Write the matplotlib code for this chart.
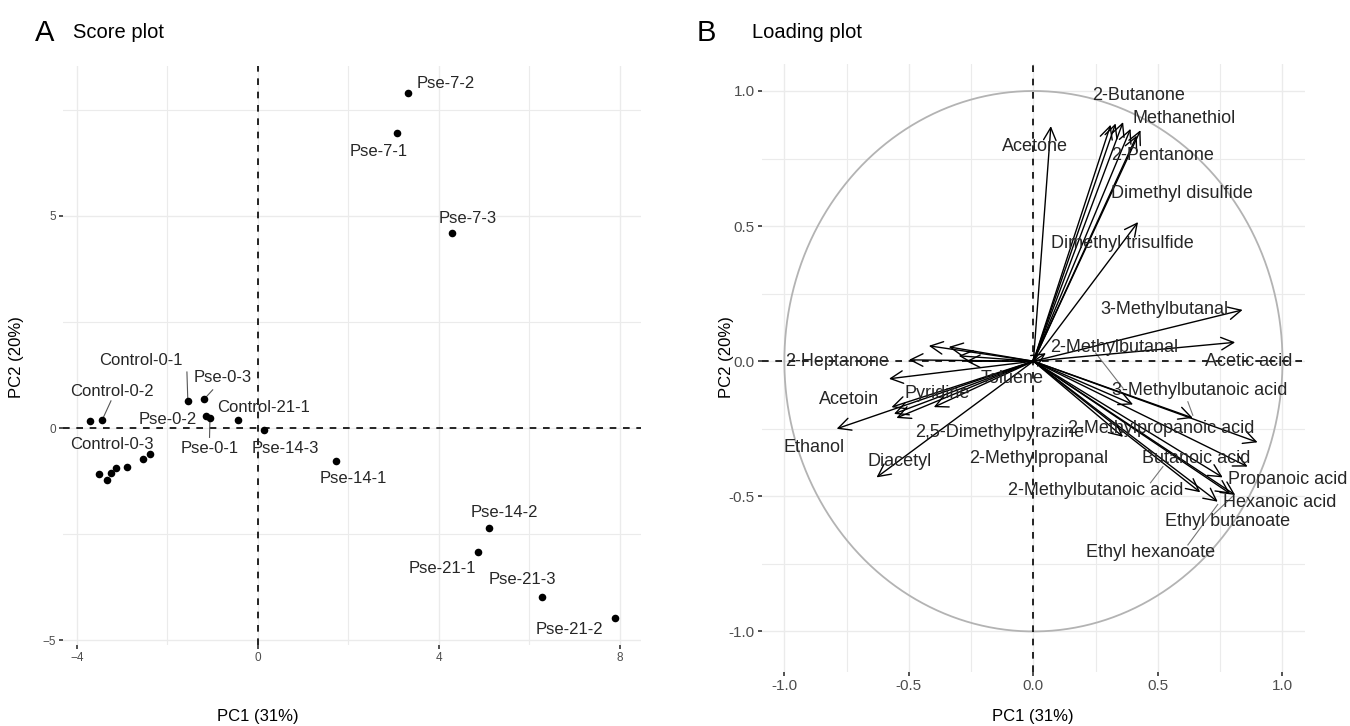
import matplotlib
matplotlib.use("Agg")
import matplotlib.pyplot as plt
import numpy as np
from matplotlib.patches import FancyArrowPatch

plt.rcParams['font.family'] = ['Liberation Sans', 'DejaVu Sans']

# ---------------- data: score plot ----------------
score_names = ["Pse-7-2", "Pse-7-1", "Pse-7-3", "Control-0-1", "Pse-0-3", "Pse-0-2", "Pse-0-1",
               "Control-21-1", "Pse-14-3", "Control-0-2", "", "Control-0-3", "", "", "", "", "", "",
               "Pse-14-1", "Pse-14-2", "Pse-21-1", "Pse-21-3", "Pse-21-2"]
score_pc1 = [3.32, 3.08, 4.29, -1.55, -1.19, -1.14, -1.06,
             -0.43, 0.14, -3.44, -3.72, -2.39, -2.54, -2.89, -3.13, -3.24, -3.33, -3.51,
             1.73, 5.11, 4.86, 6.28, 7.90]
score_pc2 = [7.90, 6.96, 4.59, 0.64, 0.68, 0.28, 0.24,
             0.19, -0.05, 0.20, 0.16, -0.61, -0.73, -0.91, -0.93, -1.05, -1.22, -1.08,
             -0.78, -2.36, -2.92, -3.98, -4.48]

# ---------------- data: loading plot ----------------
load_names = ["Acetone", "2-Butanone", "Methanethiol", "2-Pentanone", "Dimethyl disulfide", "", "",
              "Dimethyl trisulfide", "3-Methylbutanal", "Acetic acid", "2-Methylbutanal",
              "3-Methylbutanoic acid", "2-Methylpropanoic acid", "Butanoic acid", "Propanoic acid",
              "Hexanoic acid", "Ethyl butanoate", "Ethyl hexanoate", "2-Methylbutanoic acid", "",
              "2-Methylpropanal",
              "2-Heptanone", "", "", "", "", "Toluene", "Ethanol", "Acetoin", "Pyridine",
              "2,5-Dimethylpyrazine", "", "Diacetyl"]
load_pc1 = [0.07, 0.33, 0.43, 0.36, 0.39, 0.31, 0.415,
            0.42, 0.84, 0.81, 0.05,
            0.64, 0.90, 0.86, 0.76,
            0.74, 0.81, 0.79, 0.67, 0.40,
            0.36,
            -0.50, -0.58, -0.42, -0.34, -0.30, -0.27, -0.79, -0.57, -0.40,
            -0.55, -0.56, -0.63]
load_pc2 = [0.87, 0.88, 0.855, 0.885, 0.86, 0.875, 0.835,
            0.515, 0.19, 0.07, 0.03,
            -0.21, -0.30, -0.39, -0.43,
            -0.52, -0.495, -0.49, -0.485, -0.16,
            -0.28,
            0.005, -0.065, 0.057, 0.053, 0.02, 0.0, -0.25, -0.17, -0.17,
            -0.21, -0.195, -0.43]

# ---------------- layout (label placement) ----------------
score_label_pos = {
    "Pse-7-2": (4.16, 8.12), "Pse-7-1": (2.68, 6.52), "Pse-7-3": (4.65, 4.94),
    "Control-0-1": (-2.59, 1.60), "Pse-0-3": (-0.77, 1.18), "Control-0-2": (-3.23, 0.87),
    "Pse-0-2": (-1.99, 0.21), "Control-21-1": (0.13, 0.49), "Pse-0-1": (-1.06, -0.47),
    "Control-0-3": (-3.23, -0.38), "Pse-14-3": (0.60, -0.47), "Pse-14-1": (2.12, -1.2),
    "Pse-14-2": (5.46, -2.0), "Pse-21-1": (4.09, -3.32), "Pse-21-3": (5.86, -3.56),
    "Pse-21-2": (6.90, -4.75),
}
score_segments = {"Control-0-1": (-1.57, 1.32), "Pse-0-3": (-1.0, 0.90),
                  "Control-0-2": (-3.25, 0.64), "Pse-0-1": (-1.07, -0.22)}

load_label_pos = {
    "2-Butanone": (0.421, 0.985), "Methanethiol": (0.606, 0.90), "2-Pentanone": (0.517, 0.763),
    "Dimethyl disulfide": (0.598, 0.622), "Acetone": (0.006, 0.793),
    "Dimethyl trisulfide": (0.357, 0.437), "3-Methylbutanal": (0.526, 0.193),
    "2-Methylbutanal": (0.324, 0.052), "Acetic acid": (0.864, 0.0),
    "3-Methylbutanoic acid": (0.666, -0.107), "2-Methylpropanoic acid": (0.513, -0.248),
    "Butanoic acid": (0.654, -0.36), "Propanoic acid": (1.02, -0.437),
    "Hexanoic acid": (0.988, -0.522), "Ethyl butanoate": (0.778, -0.592),
    "Ethyl hexanoate": (0.469, -0.707), "2-Methylbutanoic acid": (0.25, -0.478),
    "2-Methylpropanal": (0.02, -0.36), "2,5-Dimethylpyrazine": (-0.135, -0.263),
    "Diacetyl": (-0.537, -0.37), "Ethanol": (-0.88, -0.318), "Acetoin": (-0.742, -0.141),
    "Pyridine": (-0.388, -0.119), "Toluene": (-0.086, -0.063), "2-Heptanone": (-0.787, 0.0),
}
load_segments = {"3-Methylbutanoic acid": ((0.62, -0.15), (0.64, -0.20)),
                 "Butanoic acid": ((0.52, -0.39), (0.47, -0.45)),
                 "Ethyl butanoate": ((0.72, -0.57), (0.80, -0.50)),
                 "Ethyl hexanoate": ((0.62, -0.68), (0.74, -0.53)),
                 "2-Methylbutanal": ((0.25, 0.03), (0.36, -0.10))}

GRID = "#ebebeb"
TICKC = "#4d4d4d"

fig = plt.figure(figsize=(13.5, 7.26), dpi=100)

def style_axes(ax):
    for s in ax.spines.values():
        s.set_visible(False)
    ax.set_facecolor("white")
    ax.tick_params(axis="both", which="major", length=3, width=1.2, color="#333333",
                   labelcolor=TICKC, pad=2)
    ax.tick_params(axis="both", which="minor", length=0)
    ax.grid(True, which="major", color=GRID, lw=1.0, zorder=0)
    ax.grid(True, which="minor", color=GRID, lw=0.8, zorder=0)
    ax.set_axisbelow(True)

# ---------------- Panel A ----------------
axA = fig.add_axes([0.0467, 0.1116, 0.428, 0.797])
style_axes(axA)
axA.set_xlim(-4.31, 8.47)
axA.set_ylim(-5.11, 8.52)
axA.set_xticks([-4, 0, 4, 8])
axA.set_yticks([-5, 0, 5])
axA.set_xticks([-2, 2, 6], minor=True)
axA.set_yticks([-2.5, 2.5, 7.5], minor=True)
axA.tick_params(labelsize=8.5)
axA.axvline(0, color="black", lw=1.2, ls=(0, (4, 4)), zorder=1)
axA.axhline(0, color="black", lw=1.2, ls=(0, (4, 4)), zorder=1)
axA.scatter(score_pc1, score_pc2, s=30, color="black", zorder=3, linewidths=0)
for name, x, y in zip(score_names, score_pc1, score_pc2):
    if not name:
        continue
    lx, ly = score_label_pos[name]
    if name in score_segments:
        sx, sy = score_segments[name]
        axA.plot([sx, x], [sy, y], color="#555555", lw=0.8, zorder=2)
    axA.text(lx, ly, name, fontsize=12, ha="center", va="center", color="#262626", zorder=4)

fig.text(0.026, 0.955, "A", fontsize=21, ha="left", va="center", color="black")
fig.text(0.054, 0.955, "Score plot", fontsize=14.5, ha="left", va="center", color="black")
fig.text(258 / 1350, 1 - 716 / 726, "PC1 (31%)", fontsize=12, ha="center", va="center")
fig.text(17 / 1350, 1 - 357 / 726, "PC2 (20%)", fontsize=12, ha="center", va="center",
         rotation=90)

# ---------------- Panel B ----------------
axB = fig.add_axes([0.5644, 0.0744, 0.4022, 0.8375])
style_axes(axB)
axB.set_xlim(-1.09, 1.09)
axB.set_ylim(-1.15, 1.10)
ticksB = [-1.0, -0.5, 0.0, 0.5, 1.0]
axB.set_xticks(ticksB)
axB.set_yticks(ticksB)
axB.set_xticklabels([f"{t:.1f}" for t in ticksB])
axB.set_yticklabels([f"{t:.1f}" for t in ticksB])
axB.set_xticks([-0.75, -0.25, 0.25, 0.75], minor=True)
axB.set_yticks([-0.75, -0.25, 0.25, 0.75], minor=True)
axB.tick_params(labelsize=11)
th = np.linspace(0, 2 * np.pi, 400)
axB.plot(np.cos(th), np.sin(th), color="#b3b3b3", lw=1.3, zorder=1)
axB.axvline(0, color="black", lw=1.2, ls=(0, (4, 4)), zorder=1)
axB.axhline(0, color="black", lw=1.2, ls=(0, (4, 4)), zorder=1)
for x, y in zip(load_pc1, load_pc2):
    arr = FancyArrowPatch((0, 0), (x, y), arrowstyle="->,head_length=0.6,head_width=0.3",
                          mutation_scale=15, color="black", lw=1.0, zorder=3,
                          shrinkA=0, shrinkB=0)
    axB.add_patch(arr)
for name, (a, b) in load_segments.items():
    axB.plot([a[0], b[0]], [a[1], b[1]], color="#777777", lw=0.8, zorder=2)
for name in load_names:
    if not name:
        continue
    lx, ly = load_label_pos[name]
    axB.text(lx, ly, name, fontsize=13, ha="center", va="center", color="#262626", zorder=4)

fig.text(0.516, 0.955, "B", fontsize=21, ha="left", va="center", color="black")
fig.text(0.557, 0.955, "Loading plot", fontsize=14.5, ha="left", va="center", color="black")
fig.text(1033 / 1350, 1 - 716 / 726, "PC1 (31%)", fontsize=12, ha="center", va="center")
fig.text(726 / 1350, 1 - 357 / 726, "PC2 (20%)", fontsize=12, ha="center", va="center",
         rotation=90)

fig.savefig("out.png", dpi=100)
